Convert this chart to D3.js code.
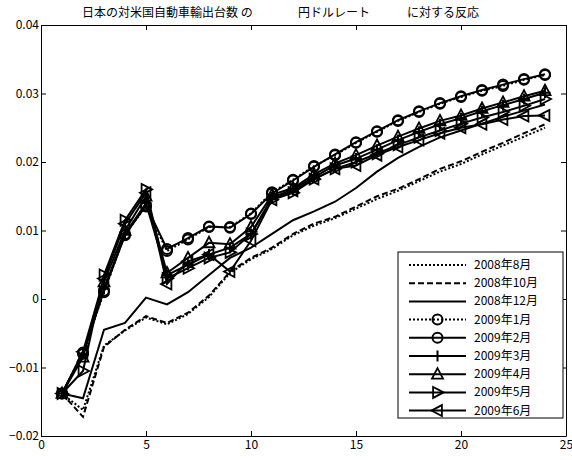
<!DOCTYPE html>
<html>
<head>
<meta charset="utf-8">
<script src="https://cdn.jsdelivr.net/npm/d3@7"></script>
<style>
  body { margin: 0; background: #fff; }
  svg text { font-family: "Noto Sans CJK JP", "DejaVu Sans", sans-serif; fill: #000; }
</style>
</head>
<body>
<div id="chart"></div>
<script>
// impulse responses, horizon 1..24
var horizon = d3.range(1, 25);

var aug2008 = [-0.0138, -0.0162, -0.0068, -0.0046, -0.0027, -0.0037, -0.0022, 0.0003, 0.0038, 0.0058, 0.0073, 0.0093, 0.0107, 0.0118, 0.0132, 0.0146, 0.0158, 0.0172, 0.0186, 0.0197, 0.0211, 0.0224, 0.0237, 0.0250];
var oct2008 = [-0.0138, -0.0172, -0.0070, -0.0045, -0.0025, -0.0035, -0.0020, 0.0005, 0.0040, 0.0060, 0.0075, 0.0095, 0.0110, 0.0120, 0.0135, 0.0150, 0.0161, 0.0175, 0.0190, 0.0201, 0.0215, 0.0228, 0.0242, 0.0255];
var dec2008 = [-0.0138, -0.0145, -0.0045, -0.0035, 0.0002, -0.0008, 0.0010, 0.0035, 0.0060, 0.0075, 0.0095, 0.0115, 0.0128, 0.0142, 0.0162, 0.0186, 0.0206, 0.0222, 0.0236, 0.0246, 0.0256, 0.0266, 0.0275, 0.0284];
var jan2009 = [-0.0138, -0.0078, 0.0010, 0.0095, 0.0135, 0.0070, 0.0087, 0.0105, 0.0105, 0.0125, 0.0156, 0.0174, 0.0194, 0.0210, 0.0228, 0.0244, 0.0260, 0.0273, 0.0285, 0.0295, 0.0304, 0.0311, 0.0320, 0.0327];
var feb2009 = [-0.0138, -0.0080, 0.0012, 0.0093, 0.0137, 0.0073, 0.0089, 0.0106, 0.0104, 0.0124, 0.0154, 0.0173, 0.0193, 0.0211, 0.0229, 0.0245, 0.0261, 0.0274, 0.0286, 0.0296, 0.0305, 0.0313, 0.0321, 0.0328];
var mar2009 = [-0.0138, -0.0080, 0.0015, 0.0095, 0.0140, 0.0035, 0.0050, 0.0065, 0.0075, 0.0095, 0.0148, 0.0160, 0.0178, 0.0195, 0.0205, 0.0218, 0.0232, 0.0244, 0.0255, 0.0264, 0.0274, 0.0283, 0.0292, 0.0301];
var apr2009 = [-0.0138, -0.0085, 0.0025, 0.0100, 0.0150, 0.0038, 0.0060, 0.0082, 0.0080, 0.0105, 0.0152, 0.0162, 0.0182, 0.0198, 0.0210, 0.0224, 0.0237, 0.0249, 0.0260, 0.0268, 0.0278, 0.0287, 0.0296, 0.0304];
var may2009 = [-0.0138, -0.0105, 0.0035, 0.0115, 0.0160, 0.0030, 0.0045, 0.0060, 0.0068, 0.0095, 0.0145, 0.0155, 0.0175, 0.0190, 0.0200, 0.0212, 0.0225, 0.0236, 0.0246, 0.0256, 0.0265, 0.0273, 0.0282, 0.0292];
var jun2009 = [-0.0138, -0.0077, 0.0030, 0.0110, 0.0155, 0.0022, 0.0055, 0.0065, 0.0040, 0.0085, 0.0145, 0.0158, 0.0175, 0.0190, 0.0195, 0.0210, 0.0222, 0.0232, 0.0242, 0.0250, 0.0255, 0.0262, 0.0267, 0.0268];

var seriesNames = ["2008年8月", "2008年10月", "2008年12月", "2009年1月", "2009年2月", "2009年3月", "2009年4月", "2009年5月", "2009年6月"];
var seriesValues = [aug2008, oct2008, dec2008, jan2009, feb2009, mar2009, apr2009, may2009, jun2009];
var seriesDash = ["2,2", "6,3", null, "2,2", null, null, null, null, null];
var seriesMarker = [null, null, null, "circle", "circle", "plus", "up", "right", "left"];

var xTicks = [0, 5, 10, 15, 20, 25];
var yTicks = [-0.02, -0.01, 0, 0.01, 0.02, 0.03, 0.04];

var width = 572, height = 460;
var margin = { top: 25, right: 6, bottom: 24, left: 41 };

var svg = d3.select("#chart").append("svg")
  .attr("width", width)
  .attr("height", height);

var x = d3.scaleLinear().domain([0, 25]).range([margin.left, width - margin.right]);
var y = d3.scaleLinear().domain([-0.02, 0.04]).range([height - margin.bottom, margin.top]);

var tickFmt = function (d) { return d === 0 ? "0" : d3.format("")(+d.toFixed(2)).replace("-", "\u2212"); };

// axes with inward ticks, matlab style
var axB = svg.append("g").attr("transform", "translate(0," + y(-0.02) + ")")
  .call(d3.axisBottom(x).tickValues(xTicks).tickSizeInner(-5).tickSizeOuter(0).tickPadding(4));
var axT = svg.append("g").attr("transform", "translate(0," + y(0.04) + ")")
  .call(d3.axisTop(x).tickValues(xTicks).tickSizeInner(-5).tickSizeOuter(0).tickFormat(""));
var axL = svg.append("g").attr("transform", "translate(" + x(0) + ",0)")
  .call(d3.axisLeft(y).tickValues(yTicks).tickSizeInner(-5).tickSizeOuter(0).tickPadding(4).tickFormat(tickFmt));
var axR = svg.append("g").attr("transform", "translate(" + x(25) + ",0)")
  .call(d3.axisRight(y).tickValues(yTicks).tickSizeInner(-5).tickSizeOuter(0).tickFormat(""));

[axB, axT, axL, axR].forEach(function (g) {
  g.selectAll("path.domain").attr("stroke", "#000").attr("stroke-width", 1);
  g.selectAll(".tick line").attr("stroke", "#000");
  g.selectAll("text").attr("font-size", "12px").attr("fill", "#000")
    .style("font-family", "'Noto Sans CJK JP', sans-serif");
});
axL.selectAll("text").attr("dx", "2");

var line = d3.line()
  .x(function (d, i) { return x(horizon[i]); })
  .y(function (d) { return y(d); });

function drawMarker(g, kind, cx, cy) {
  var s = 5.5;
  if (kind === "circle") {
    g.append("circle").attr("cx", cx).attr("cy", cy).attr("r", 5)
      .attr("fill", "none").attr("stroke", "#000").attr("stroke-width", 2);
  } else if (kind === "plus") {
    g.append("path").attr("d", "M" + (cx - s) + "," + cy + "H" + (cx + s) + "M" + cx + "," + (cy - s) + "V" + (cy + s))
      .attr("stroke", "#000").attr("stroke-width", 2);
  } else if (kind) {
    var pts;
    if (kind === "up") pts = [[cx, cy - s * 1.1], [cx - s, cy + s * 0.8], [cx + s, cy + s * 0.8]];
    if (kind === "right") pts = [[cx + s * 1.1, cy], [cx - s * 0.8, cy - s], [cx - s * 0.8, cy + s]];
    if (kind === "left") pts = [[cx - s * 1.1, cy], [cx + s * 0.8, cy - s], [cx + s * 0.8, cy + s]];
    g.append("path").attr("d", "M" + pts.join("L") + "Z")
      .attr("fill", "none").attr("stroke", "#000").attr("stroke-width", 1.8);
  }
}

var plot = svg.append("g");
seriesValues.forEach(function (vals, k) {
  plot.append("path")
    .datum(vals)
    .attr("d", line)
    .attr("fill", "none")
    .attr("stroke", "#000")
    .attr("stroke-width", 2)
    .attr("stroke-dasharray", seriesDash[k]);
  if (seriesMarker[k]) {
    var mg = plot.append("g");
    vals.forEach(function (v, i) { drawMarker(mg, seriesMarker[k], x(horizon[i]), y(v)); });
  }
});

// title in three pieces, spaced like the original
var title = svg.append("g").attr("font-size", "12px");
title.append("text").attr("x", 82).attr("y", 17).text("日本の対米国自動車輸出台数 の");
title.append("text").attr("x", 298).attr("y", 17).text("円ドルレート");
title.append("text").attr("x", 407).attr("y", 17).text("に対する反応");

// legend
var lg = svg.append("g").attr("transform", "translate(398,252)");
lg.append("rect").attr("width", 165).attr("height", 166)
  .attr("fill", "#fff").attr("stroke", "#000").attr("stroke-width", 1);
seriesNames.forEach(function (name, k) {
  var ly = 13 + k * 18.2;
  lg.append("line").attr("x1", 11).attr("x2", 68).attr("y1", ly).attr("y2", ly)
    .attr("stroke", "#000").attr("stroke-width", 2).attr("stroke-dasharray", seriesDash[k]);
  if (seriesMarker[k]) drawMarker(lg, seriesMarker[k], 39.5, ly);
  lg.append("text").attr("x", 76).attr("y", ly + 4).attr("font-size", "12px").text(name);
});
</script>
</body>
</html>
